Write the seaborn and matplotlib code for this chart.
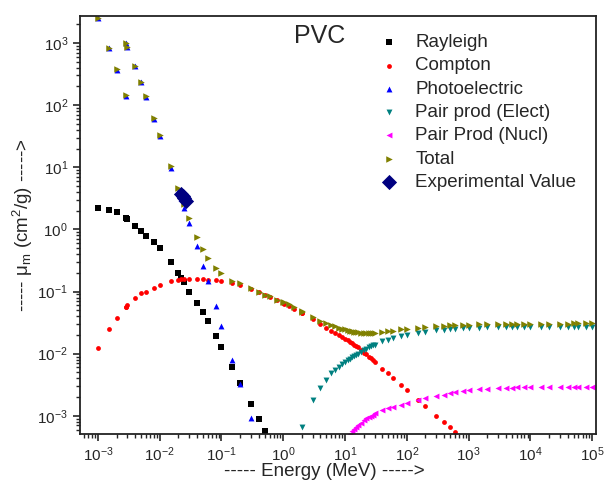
import matplotlib
matplotlib.use("Agg")
import matplotlib.pyplot as plt
import seaborn as sns

# energy grid (MeV), XCOM style with the Cl K edge doubled
E_FULL = [0.001, 0.0015, 0.002, 0.002822, 0.002822, 0.003, 0.004, 0.005, 0.006, 0.008,
          0.01, 0.015, 0.02, 0.022, 0.025, 0.03, 0.04, 0.05, 0.06, 0.08,
          0.1, 0.15, 0.2, 0.3, 0.4, 0.5, 0.6, 0.8, 1.0, 1.022,
          1.25, 1.5, 2.0, 2.044, 3, 4, 5, 6, 7, 8,
          9, 10, 11, 12, 13, 14, 15, 16, 18, 20,
          22, 24, 26, 28, 30, 40, 50, 60, 80, 100,
          150, 200, 300, 400, 500, 600, 800, 1000, 1500, 2000,
          3000, 4000, 5000, 6000, 8000, 1e4, 1.5e4, 2e4, 3e4, 4e4,
          5e4, 6e4, 8e4, 1e5]

# mass attenuation (cm2/g), only the points that fall inside the plot
rayleigh = [2.2, 2.05, 1.9, 1.5, 1.5, 1.45, 1.15, 0.95, 0.78, 0.62, 0.50, 0.30, 0.20,
            0.165, 0.14, 0.10, 0.066, 0.046, 0.033, 0.0196, 0.013, 0.0061, 0.0034,
            0.00155, 0.00089, 0.00057]
photo = [2540, 820, 370, 140, 990, 860, 420, 232, 137, 60, 32, 9.8, 4.1, 3.2, 2.2,
         1.25, 0.53, 0.26, 0.145, 0.059, 0.028, 0.008, 0.0032, 0.00093]
compton = [0.0125, 0.0245, 0.038, 0.057, 0.057, 0.06, 0.08, 0.093, 0.10, 0.115,
           0.125, 0.145, 0.155, 0.157, 0.158, 0.16, 0.16, 0.158, 0.155, 0.152,
           0.148, 0.137, 0.126, 0.109, 0.097, 0.088, 0.082, 0.072, 0.065, 0.064,
           0.058, 0.053, 0.045, 0.0445, 0.036, 0.030, 0.026, 0.0235, 0.0215, 0.0198,
           0.0185, 0.0174, 0.0163, 0.0154, 0.0146, 0.0139, 0.0133, 0.0127, 0.0116, 0.0104,
           0.0097, 0.009, 0.0084, 0.0078, 0.0073, 0.0057, 0.0048, 0.0041, 0.0031, 0.0026,
           0.0018, 0.00145, 0.001, 0.00079, 0.00066, 0.00055]
pair_elect = [0.00065, 0.0018, 0.0028, 0.0038, 0.0048, 0.0055, 0.0062, 0.0068, 0.0073,
              0.0078, 0.0083, 0.0088, 0.0092, 0.0096, 0.0100, 0.0107, 0.0114, 0.012,
              0.0126, 0.0131, 0.0136, 0.014, 0.0158, 0.0168, 0.0176, 0.0192, 0.0202,
              0.0218, 0.0227, 0.0238, 0.0244, 0.0248, 0.0251, 0.0255, 0.0258, 0.0262,
              0.0264, 0.0266, 0.0267, 0.0268, 0.0268, 0.0269, 0.0269, 0.027, 0.027,
              0.027, 0.027, 0.027, 0.027, 0.027, 0.027]
pair_nucl = [0.00051, 0.00056, 0.00061, 0.00065, 0.0007, 0.00078, 0.00085, 0.00091,
             0.00096, 0.001, 0.00104, 0.0011, 0.00122, 0.00132, 0.0014, 0.0015, 0.0016,
             0.0018, 0.0019, 0.0021, 0.0022, 0.0023, 0.0024, 0.0025, 0.0026, 0.0027,
             0.0027, 0.0028, 0.0028, 0.0028, 0.0029, 0.0029, 0.0029, 0.0029, 0.0029,
             0.0029, 0.0029, 0.0029, 0.0029, 0.0029, 0.0029]
total = [2550, 830, 380, 145, 1000, 870, 425, 235, 140, 62, 33, 10.4, 4.6, 3.6, 2.6,
         1.5, 0.74, 0.48, 0.35, 0.24, 0.20, 0.15, 0.135, 0.112, 0.10, 0.089, 0.084,
         0.074, 0.069, 0.068, 0.062, 0.056, 0.048, 0.0475, 0.039, 0.034, 0.031, 0.029,
         0.0275, 0.026, 0.0253, 0.0245, 0.024, 0.0235, 0.023, 0.0226, 0.0223, 0.022,
         0.0217, 0.0215, 0.0214, 0.0214, 0.0214, 0.0215, 0.0216, 0.0222, 0.0228, 0.0235,
         0.0245, 0.0252, 0.0263, 0.027, 0.0278, 0.0283, 0.0286, 0.0288, 0.0292, 0.0294,
         0.0297, 0.0299, 0.0301, 0.0302, 0.0303, 0.0303, 0.0304, 0.0304, 0.0305, 0.0305,
         0.0305, 0.0305, 0.0306, 0.0306, 0.0306, 0.0306]
exp_energy = [0.022, 0.0235, 0.025, 0.0265]
exp_value = [3.7, 3.4, 3.15, 2.9]

sns.set_style("ticks")
plt.rcParams["font.family"] = ["Liberation Sans", "DejaVu Sans"]
plt.rcParams["mathtext.fontset"] = "custom"
plt.rcParams["mathtext.rm"] = "Liberation Sans"
plt.rcParams["mathtext.it"] = "Liberation Sans:italic"

fig = plt.figure(figsize=(6.05, 4.82), dpi=100)
ax = fig.add_axes([0.132, 0.0996, 0.853, 0.867])

series = [
    ("Rayleigh", E_FULL[:len(rayleigh)], rayleigh, "s", "black", 14),
    ("Compton", E_FULL[:len(compton)], compton, "o", "red", 12),
    ("Photoelectric", E_FULL[:len(photo)], photo, "^", "blue", 18),
    ("Pair prod (Elect)", E_FULL[-len(pair_elect):], pair_elect, "v", "#008080", 18),
    ("Pair Prod (Nucl)", E_FULL[-len(pair_nucl):], pair_nucl, "<", "magenta", 18),
    ("Total", E_FULL, total, ">", "#808000", 22),
]
for label, x, y, marker, color, size in series:
    sns.scatterplot(x=x, y=y, marker=marker, color=color, s=size, linewidth=0,
                    label=label, ax=ax)
sns.scatterplot(x=exp_energy, y=exp_value, marker="D", color="#000080", s=60,
                linewidth=0, label="Experimental Value", ax=ax, zorder=5)

ax.set_xscale("log")
ax.set_yscale("log")
ax.set_xlim(5.1e-4, 1.15e5)
ax.set_ylim(5.1e-4, 2700)
ax.set_xticks([1e-3, 1e-2, 1e-1, 1, 10, 1e2, 1e3, 1e4, 1e5])
ax.set_yticks([1e-3, 1e-2, 1e-1, 1, 10, 1e2, 1e3])
ax.tick_params(axis="both", which="major", labelsize=11, length=5, width=1.2)
ax.tick_params(axis="both", which="minor", length=3, width=1)
for side in ax.spines.values():
    side.set_linewidth(1.3)
    side.set_color("#222222")

ax.set_xlabel("----- Energy (MeV) ----->", fontsize=13.5, labelpad=2)
ax.xaxis.set_label_coords(0.473, -0.07)
ax.set_ylabel("----- μ$_\\mathrm{m}$ (cm$^2$/g) ----->", fontsize=13.5, labelpad=2)
ax.text(0.465, 0.982, "PVC", transform=ax.transAxes, fontsize=18, ha="center", va="top")

ax.legend(loc="upper left", bbox_to_anchor=(0.559, 0.975), frameon=False, fontsize=13.5,
          handlelength=1.4, handletextpad=0.7, labelspacing=0.33, borderaxespad=0)

fig.savefig("out.png", dpi=100)
plt.close(fig)
